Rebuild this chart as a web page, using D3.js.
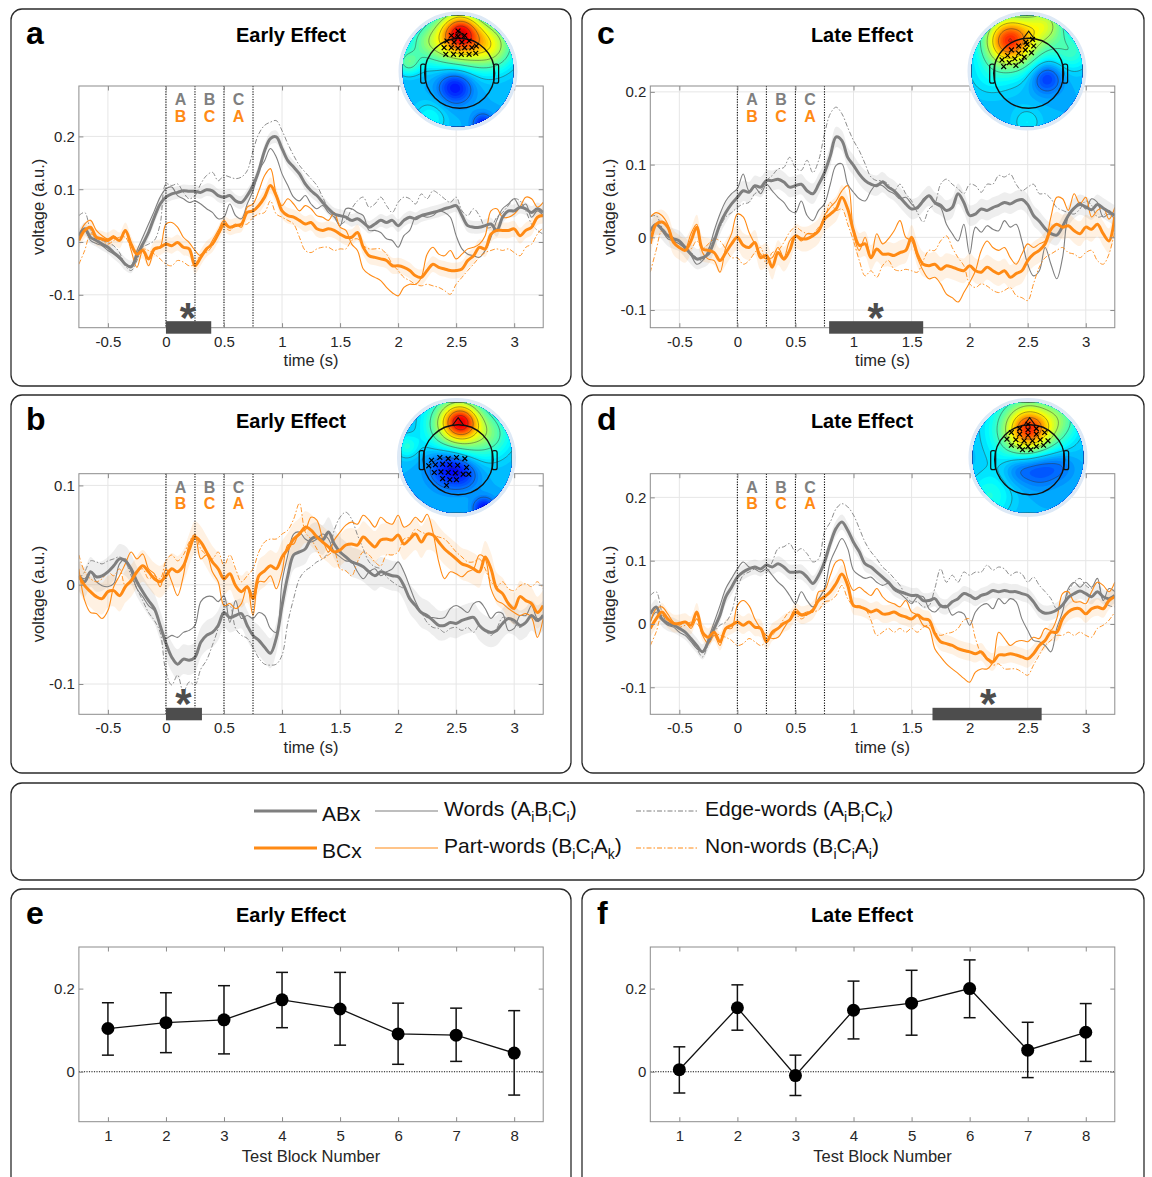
<!DOCTYPE html>
<html>
<head>
<meta charset="utf-8">
<script src="https://cdn.jsdelivr.net/npm/d3@7"></script>
<style>
  body { margin: 0; background: #fff; }
  svg text { font-family: "Liberation Sans", Arial, Helvetica, sans-serif; }
</style>
</head>
<body>
<svg id="fig" width="1152" height="1177"></svg>
<script>
// sample times of the averaged traces (s), one every 50 ms
const sampleTimes = d3.range(81).map(i => -0.75 + i * 0.05);

// ERP traces, in units of 1e-3 a.u.
// panel a – early effect, frontal cluster
const aABx = [12,25,9,3,-4,-10,-20,-29,-42,-47, -26,-4,18,47,72,85,91,94,97,96, 96,94,99,97,88,85,88,78,75,88,
  107,135,173,196,199,177,154,142,129,110, 97,88,75,63,53,50,47,41,44,37, 28,34,41,37,41,31,41,47,44,50,
  53,56,59,63,66,69,50,31,28,28, 31,34,22,47,59,59,66,63,56,63, 56];
const aWords = [3,22,3,-3,-7,-16,-23,-32,-42,-45, -16,9,34,59,85,101,104,88,82,75, 78,72,63,56,44,47,72,50,44,72,
  97,135,154,177,161,129,107,85,78,88, 72,63,69,56,47,31,63,63,56,50, 22,22,18,6,3,-10,12,22,47,50,
  47,50,59,56,47,12,-13,-23,-26,-29, -16,9,41,63,72,82,66,72,47,59, 50];
const aEdge = [50,56,22,6,3,-1,-7,-20,-45,-54, -35,-10,-4,3,34,110,107,110,94,82, 88,110,126,132,116,126,123,120,123,135,
  173,205,221,227,230,211,186,164,145,132, 120,107,85,63,50,34,41,63,78,85, 66,72,85,69,56,75,85,82,72,91,
  82,97,91,82,75,85,59,50,63,50, 28,28,47,56,69,82,78,59,34,22, 15];
const aBCx = [3,22,28,9,6,3,9,3,22,-4, -23,-16,-32,-13,-10,-4,-7,-1,-10,-13, -45,-29,-13,-4,15,34,28,31,34,56,
  59,69,85,107,88,59,50,47,41,34, 37,25,22,25,22,15,9,9,18,-10, -26,-29,-32,-35,-45,-45,-48,-54,-64,-67,
  -54,-42,-48,-51,-54,-54,-51,-35,-26,-10, -13,15,22,22,22,25,12,22,28,47, 50];
const aPart = [12,34,41,22,12,6,12,3,22,-16, -48,-16,-45,-16,-10,34,37,28,9,-1, -16,-26,-16,3,22,41,28,34,28,66,
  72,97,126,139,91,69,82,72,59,69, 63,50,47,41,56,28,22,-4,-16,-51, -61,-67,-73,-86,-96,-102,-86,-80,-80,-67,
  -23,-10,-23,-26,-16,-32,-23,-13,-10,-4, 12,59,63,47,47,53,66,85,82,66, 75];
const aNon = [-42,-16,15,9,3,-4,3,9,9,-10, -16,-13,-16,-23,-32,-42,-45,-35,-38,-45, -42,-23,-20,-7,12,28,22,31,34,34,
  47,53,56,78,53,47,41,34,9,-16, -20,-13,-10,-10,-16,-13,-13,3,6,-7, -13,-13,-13,-23,-42,-54,-67,-73,-80,-83,
  -80,-83,-86,-92,-99,-80,-67,-54,-42,-29, -20,-16,-13,-16,-13,-20,-26,-10,-4,15, 28];

// panel b – early effect, central cluster
const bABx = [9,3,13,8,9,13,19,26,24,16, 3,-7,-16,-24,-41,-59,-73,-80,-75,-76, -73,-58,-51,-48,-41,-28,-33,-31,-29,-41,
  -51,-56,-63,-69,-54,-21,9,30,33,36, 46,48,45,53,41,33,28,23,21,18, 13,9,13,11,9,8,-1,-14,-21,-28,
  -31,-36,-41,-41,-38,-39,-36,-34,-33,-41, -46,-48,-46,-39,-34,-36,-41,-38,-31,-36, -31];
const bWords = [9,6,13,3,-1,-2,1,21,26,13, -4,-12,-21,-26,-41,-54,-51,-53,-48,-46, -41,-17,-12,-12,-17,-11,-38,-16,-34,-31,
  -34,-28,-31,-44,-48,3,30,51,53,46, 43,46,51,46,33,28,24,23,13,6, 13,16,9,13,16,23,13,-2,-17,-28,
  -33,-33,-34,-33,-24,-21,-24,-28,-19,-17, -24,-34,-28,-29,-46,-44,-31,-31,-21,-34, -33];
const bEdge = [6,13,24,23,21,24,26,28,23,9, -4,-16,-28,-36,-48,-88,-101,-91,-108,-98, -101,-85,-76,-61,-44,-24,-21,-44,-51,-54,
  -63,-74,-80,-81,-80,-71,-38,-14,6,14, 18,23,26,33,55,68,73,66,50,36, 23,18,16,8,3,-1,-4,-14,-21,-28,
  -38,-43,-44,-48,-44,-43,-46,-43,-48,-41, -46,-51,-44,-33,-34,-39,-43,-38,-31,-38, -28];
const bBCx = [9,-1,-7,-12,-14,-7,-6,-11,-2,4, 13,19,13,6,3,9,16,13,19,35, 48,43,33,23,16,6,11,-1,-7,-2,
  -14,9,14,19,16,28,36,46,51,58, 55,48,43,38,33,35,40,41,40,48, 43,38,45,46,45,50,41,46,51,43,
  51,50,43,36,31,26,21,19,16,13, 28,16,-4,-9,-19,-24,-12,-16,-19,-28, -21];
const bPart = [16,-16,-28,-29,-34,-26,-2,9,21,33, 26,31,16,11,-2,16,3,-11,9,41, 50,26,30,13,3,-21,-19,-24,-19,-1,
  -31,3,3,9,-4,13,40,41,53,55, 68,65,46,33,45,53,60,63,61,70, 65,58,68,63,61,70,58,61,68,63,
  71,53,23,6,13,11,8,13,16,30, 26,-4,-16,-19,-24,-28,-31,-29,-33,-53, -34];
const bNon = [30,13,6,3,6,13,9,16,-1,3, 13,16,6,9,6,24,30,24,30,43, 51,36,30,26,33,19,30,16,3,9,
  16,33,43,46,46,51,55,66,82,53, 46,36,26,30,33,16,14,9,23,33, 30,23,19,30,30,33,46,48,56,53,
  51,50,48,46,40,33,28,23,23,26, 16,3,-2,3,-4,-6,-1,1,-2,3, -4];

// panel c – late effect, left frontal cluster
const cABx = [9,18,11,2,-2,-5,-14,-23,-30,-28, -23,-5,18,34,46,55,64,62,71,69, 78,78,80,76,69,71,73,64,60,73,
  89,112,138,133,110,99,87,78,73,71, 76,69,64,55,46,39,41,50,57,48, 44,37,41,60,48,30,32,39,37,41,
  44,48,46,50,52,45,30,22,12,5, 3,15,30,40,45,42,38,45,40,35, 30];
const cWords = [7,18,9,-2,-5,-9,-16,-25,-37,-32, -18,9,32,50,60,67,87,64,69,60, 73,64,55,48,37,34,50,30,23,37,
  46,73,99,101,73,62,53,50,64,73, 71,64,60,53,55,46,39,53,57,46, 41,18,5,-5,18,-23,14,7,16,11,
  9,23,14,18,-5,-37,-53,-46,-14,-37, -57,-28,30,41,48,39,53,48,28,32, 25];
const cEdge = [28,30,14,5,-5,-9,-16,-21,-28,-32, -16,0,14,28,34,41,46,48,60,64, 78,85,94,96,110,96,92,106,89,106,
  142,170,179,170,151,133,119,101,83,78, 78,73,64,73,60,50,34,21,39,46, 73,80,73,67,60,73,71,62,73,73,
  85,83,87,73,64,69,73,60,60,53, 41,37,34,32,39,50,44,28,30,37, 28];
const cBCx = [-9,18,21,14,-7,-14,-18,-5,14,-16, -18,-21,-32,-21,-9,0,-11,-14,-7,-28, -25,-41,-21,-30,-18,2,-2,-2,2,9,
  25,32,39,55,39,9,-11,-9,-28,-16, -23,-23,-25,-21,-18,0,-23,-37,-39,-37, -44,-39,-41,-44,-46,-39,-46,-48,-41,-46,
  -50,-46,-55,-50,-46,-32,-23,-18,-9,11, 18,14,16,9,5,14,11,18,5,-5, 28];
const cPart = [28,34,30,18,-5,-14,-16,5,18,-21, -30,-32,-48,-14,5,32,28,7,-9,-23, -30,-28,-14,-28,-5,2,-5,5,5,9,
  30,41,50,64,71,5,-18,0,-28,5, -9,-2,9,23,0,-5,-28,-46,-57,-55, -64,-78,-83,-89,-76,-62,-46,-18,-5,-14,
  -18,-14,-28,-37,-23,-9,-14,-9,-5,28, 55,53,37,60,46,55,28,37,41,25, 41];
const cNon = [-48,-18,9,2,-5,-14,-18,-16,-5,-16, -9,-2,-5,-16,-28,-28,-37,-32,-21,-14, -37,-21,-18,-7,7,14,9,5,5,14,
  23,48,37,39,18,-5,-32,-53,-46,-55, -39,-32,-44,-46,-44,-46,-48,-32,-18,-18, -5,2,-14,-28,-39,-64,-69,-64,-67,-73,
  -76,-73,-69,-80,-83,-87,-64,-41,-28,-23, -18,-14,-21,-23,-28,-21,-18,-32,-37,-23, 9];

// panel d – late effect, frontal cluster
const dABx = [16,27,8,1,-2,-7,-13,-23,-34,-44, -28,-7,14,43,58,74,82,87,90,87, 93,90,95,90,82,82,82,74,64,77,
  98,127,151,161,148,129,114,95,90,82, 74,66,56,51,48,45,45,37,37,40, 29,27,35,40,48,45,40,45,48,53,
  51,53,51,51,48,45,35,22,17,18, 22,30,42,48,52,48,43,51,43,40, 45];
const dWords = [3,19,6,-2,-5,-13,-18,-28,-39,-44, -23,3,29,56,72,87,98,90,87,82, 87,77,66,58,45,32,51,37,27,40,
  56,98,119,135,119,85,77,72,74,66, 61,64,53,48,40,32,43,43,24,19, 27,29,14,19,16,-2,19,29,32,24,
  40,32,40,35,8,-10,-26,-28,-34,-44, -7,19,56,66,58,66,58,72,37,56, 51];
const dEdge = [45,51,19,1,-2,-7,-13,-23,-39,-52, -31,-13,-2,3,19,56,77,82,87,87, 82,98,119,122,127,114,119,111,98,103,
  145,161,182,190,185,172,151,129,114,103, 90,82,72,61,45,35,35,27,29,56, 87,66,77,66,82,77,82,82,93,85,
  90,87,77,82,79,66,74,61,51,40, 24,29,51,66,72,61,56,66,37,29, 27];
const dBCx = [-7,8,19,8,1,1,3,-2,19,-13, -21,-13,-28,-7,-2,3,-2,3,-5,-7, -28,-13,-7,1,6,19,14,16,22,37,
  43,51,64,79,61,29,27,24,19,22, 16,16,19,14,11,8,14,8,6,-15, -28,-31,-34,-39,-42,-44,-47,-44,-55,-60,
  -49,-49,-47,-49,-52,-55,-47,-34,-26,-13, -13,8,19,24,24,16,24,27,24,37, 43];
const dPart = [3,24,27,16,3,-2,3,-7,8,-18, -31,-18,-34,-7,-7,29,37,29,8,-7, -18,-23,-21,-7,8,24,16,19,19,51,
  53,77,98,101,72,53,58,51,45,56, 43,35,32,27,37,19,14,-2,-7,-39, -52,-63,-71,-78,-86,-92,-76,-71,-71,-60,
  -13,-23,-34,-28,-26,-28,-21,-23,-7,-10, 8,48,51,35,35,32,51,66,61,51, 66];
const dNon = [-34,-13,14,3,-2,-5,-2,3,1,-13, -18,-13,-18,-21,-26,-34,-31,-23,-28,-34, -28,-18,-7,8,19,16,8,14,19,22,
  35,37,45,61,40,29,29,24,6,-18, -13,-7,-13,-7,-13,-7,-13,-5,-2,-13, -18,-15,-13,-7,6,8,-23,-47,-55,-65,
  -63,-71,-71,-71,-76,-81,-65,-49,-34,-26, -18,-18,-13,-18,-13,-18,-21,-7,-2,6, 19];

// standard error half-widths of the ABx / BCx bands (1e-3 a.u.)
const aSE = [12, 15], bSE = [15, 16], cSE = [14, 17], dSE = [12, 14];

// significant clusters [start, end] (s) and star position
const aSig = [0, 0.39], bSig = [0, 0.31], cSig = [0.79, 1.6], dSig = [1.68, 2.62];
const aStar = 0.19, bStar = 0.15, cStar = 1.19, dStar = 2.16;

// syllable position labels
const posGray = ['A', 'B', 'C'], posOrange = ['B', 'C', 'A'], posTimes = [0.125, 0.375, 0.625];
const wordOnsets = [0, 0.25, 0.5, 0.75];
const xTicks = [-0.5, 0, 0.5, 1, 1.5, 2, 2.5, 3];

// panels e, f – effect per test block
const blocks = [1, 2, 3, 4, 5, 6, 7, 8];
const eMean = [0.104, 0.118, 0.125, 0.173, 0.151, 0.091, 0.088, 0.045];
const eUpper = [0.166, 0.190, 0.207, 0.239, 0.239, 0.165, 0.153, 0.147];
const eLower = [0.040, 0.046, 0.043, 0.106, 0.064, 0.018, 0.025, -0.056];
const fMean = [0.005, 0.154, -0.009, 0.148, 0.165, 0.200, 0.052, 0.095];
const fUpper = [0.060, 0.209, 0.040, 0.218, 0.244, 0.269, 0.119, 0.164];
const fLower = [-0.051, 0.100, -0.057, 0.079, 0.088, 0.130, -0.014, 0.025];

// scalp map inputs: [x, y, amplitude, spread] in unit-disc coords, plus electrode crosses
const aTopoSrc = [[0, -0.6, 0.38, 0.35], [0.05, -0.72, 0.22, 0.22], [0.6, -0.45, 0.25, 0.3], [-0.6, -0.5, 0.12, 0.25],
  [-0.05, 0.28, -0.17, 0.22], [0.45, 0.95, -0.15, 0.13], [-0.9, -0.15, 0.15, 0.15], [-0.5, 0.85, 0.08, 0.22]];
const bTopoSrc = [[0, -0.6, 0.34, 0.35], [0.08, -0.65, 0.26, 0.2], [0.6, -0.4, 0.14, 0.3],
  [-0.15, 0.18, -0.16, 0.25], [0.15, 0.3, -0.08, 0.2], [0.5, 0.92, -0.17, 0.14], [-0.9, -0.2, 0.1, 0.15]];
const cTopoSrc = [[-0.35, -0.55, 0.3, 0.28], [-0.2, -0.55, 0.25, 0.4], [0.35, -0.85, 0.2, 0.25], [0.8, -0.35, 0.12, 0.25],
  [0.35, 0.12, -0.14, 0.2], [-0.7, 0.1, 0.05, 0.3], [0, 0.92, 0.06, 0.2]];
const dTopoSrc = [[0.02, -0.52, 0.28, 0.25], [0, -0.5, 0.26, 0.45], [0.2, 0.18, -0.14, 0.25], [-0.2, 0.2, -0.08, 0.2],
  [0.6, 0.15, -0.06, 0.2], [-0.7, 0.7, 0.1, 0.3], [0.6, -0.7, 0.1, 0.25]];
const aElec = [[0,-0.72],[-0.12,-0.64],[0,-0.62],[0.12,-0.64],[-0.2,-0.54],[-0.07,-0.52],[0.07,-0.52],[0.2,-0.54],
  [-0.25,-0.42],[-0.12,-0.42],[0,-0.41],[0.12,-0.42],[0.25,-0.42],[-0.22,-0.3],[-0.08,-0.3],[0.06,-0.3],[0.2,-0.3],[0.32,-0.32],[0.33,-0.45]];
const bElec = [[-0.45,0.05],[-0.3,0],[-0.15,0.02],[0,0],[0.15,0.02],[-0.5,0.15],[-0.38,0.13],[-0.25,0.12],[-0.12,0.13],
  [0.02,0.14],[0.18,0.18],[-0.4,0.27],[-0.28,0.26],[-0.15,0.27],[-0.02,0.28],[0.12,0.3],[0.22,0.3],[-0.25,0.38],[-0.12,0.4],[0,0.4],[-0.18,0.5]];
const cElec = [[0.1,-0.57],[-0.02,-0.52],[0.12,-0.45],[-0.15,-0.45],[-0.03,-0.38],[0.08,-0.33],[-0.28,-0.38],[-0.15,-0.32],
  [-0.05,-0.25],[-0.35,-0.28],[-0.22,-0.22],[-0.1,-0.18],[-0.45,-0.2],[-0.32,-0.15],[-0.2,-0.1],[-0.42,-0.08],[0,-0.48]];
const dElec = [[0,-0.6],[-0.15,-0.52],[0,-0.5],[0.15,-0.52],[-0.3,-0.45],[-0.15,-0.42],[0,-0.4],[0.15,-0.42],[0.3,-0.45],
  [-0.38,-0.33],[-0.22,-0.32],[-0.07,-0.3],[0.08,-0.3],[0.22,-0.32],[0.36,-0.3],[-0.3,-0.22],[-0.15,-0.2],[0,-0.2],[0.15,-0.2],[0.28,-0.22],[-0.1,-0.14],[0.05,-0.14]];

const GRAY = '#7f7f7f', ORANGE = '#ff8a14', FRAME = '#8c8c8c', GRID = '#e6e6e6', INK = '#262626';
const DASHDOT = '5,2,1.5,2';

const svg = d3.select('#fig');
const defs = svg.append('defs');

function box(x, y, w, h) {
  svg.append('rect').attr('x', x).attr('y', y).attr('width', w).attr('height', h)
    .attr('rx', 11).attr('fill', 'none').attr('stroke', '#2b2b2b').attr('stroke-width', 1.3);
}

function heading(x, y, letter, title) {
  svg.append('text').attr('x', x + 15).attr('y', y + 35).attr('font-size', 32).attr('font-weight', 'bold').text(letter);
  svg.append('text').attr('x', x + 280).attr('y', y + 33).attr('text-anchor', 'middle')
    .attr('font-size', 20).attr('font-weight', 'bold').text(title);
}

function styleAxis(g, labels) {
  g.select('.domain').remove();
  g.selectAll('.tick line').attr('stroke', FRAME);
  g.selectAll('.tick text').attr('font-size', labels ? 15 : 0).attr('fill', INK)
    .attr('font-family', '"Liberation Sans", Arial, sans-serif');
}

function jet(v) {
  v = Math.max(0, Math.min(1, v));
  const c = k => Math.max(0, Math.min(1, 1.5 - Math.abs(4 * v - k)));
  return d3.rgb(255 * c(3), 255 * c(2), 255 * c(1)).toString();
}

function drawTopo(id, cx, cy, R, src, elec) {
  const n = 64, base = 0.3;
  const vals = new Array(n * n);
  for (let j = 0; j < n; j++) {
    for (let i = 0; i < n; i++) {
      const ux = -1 + 2 * (i + 0.5) / n, uy = -1 + 2 * (j + 0.5) / n;
      let v = base;
      src.forEach(([sx, sy, a, s]) => { v += a * Math.exp(-((ux - sx) ** 2 + (uy - sy) ** 2) / (2 * s * s)); });
      vals[j * n + i] = v;
    }
  }
  defs.append('clipPath').attr('id', id).append('circle').attr('cx', cx).attr('cy', cy).attr('r', R);
  const g = svg.append('g');
  g.append('circle').attr('cx', cx).attr('cy', cy).attr('r', R + 2)
    .attr('fill', jet(base)).attr('stroke', '#dde9f6').attr('stroke-width', 4);
  const inner = g.append('g').attr('clip-path', `url(#${id})`);
  const path = d3.geoPath(d3.geoIdentity().scale(2 * R / n).translate([cx - R, cy - R]));
  const bands = d3.contours().size([n, n]).thresholds(d3.range(-0.1, 1.2, 0.02))(vals);
  inner.selectAll('path.band').data(bands).join('path').attr('class', 'band')
    .attr('d', path).attr('fill', d => jet(d.value + 0.01));
  const iso = d3.contours().size([n, n]).thresholds(d3.range(0.14, 1, 0.1))(vals);
  inner.selectAll('path.iso').data(iso).join('path').attr('class', 'iso')
    .attr('d', path).attr('fill', 'none').attr('stroke', '#333').attr('stroke-opacity', 0.65).attr('stroke-width', 0.7);
  // head outline
  const hx = cx + 0.03 * R, hy = cy + 0.04 * R, hr = 0.63 * R;
  g.append('circle').attr('cx', hx).attr('cy', hy).attr('r', hr)
    .attr('fill', 'none').attr('stroke', '#111').attr('stroke-width', 1.4);
  [-1, 1].forEach(s => {
    g.append('rect').attr('x', s < 0 ? hx - hr - 4 : hx + hr - 1).attr('y', hy - 9).attr('width', 5).attr('height', 19)
      .attr('rx', 2).attr('fill', 'none').attr('stroke', '#111').attr('stroke-width', 1.2);
  });
  g.append('path').attr('d', `M${hx - 6},${hy - hr + 1}L${hx},${hy - hr - 7}L${hx + 6},${hy - hr + 1}`)
    .attr('fill', 'none').attr('stroke', '#111').attr('stroke-width', 1.2);
  g.selectAll('path.x').data(elec).join('path').attr('class', 'x')
    .attr('transform', d => `translate(${cx + d[0] * R},${cy + d[1] * R})`)
    .attr('d', 'M-2.4,-2.4L2.4,2.4M-2.4,2.4L2.4,-2.4').attr('stroke', '#000').attr('stroke-width', 1.2);
}

function drawERP(p) {
  box(p.bx, p.by, p.bw, p.bh);
  heading(p.bx, p.by, p.letter, p.title);
  const [x0, y0, x1, y1] = p.plot;
  const x = d3.scaleLinear().domain([-0.75, 3.25]).range([x0, x1]);
  const y = d3.scaleLinear().domain(p.yDomain).range([y1, y0]);
  const g = svg.append('g');

  g.selectAll('line.gx').data(xTicks).join('line').attr('class', 'gx')
    .attr('x1', d => x(d)).attr('x2', d => x(d)).attr('y1', y0).attr('y2', y1).attr('stroke', GRID);
  g.selectAll('line.gy').data(p.yTicks).join('line').attr('class', 'gy')
    .attr('x1', x0).attr('x2', x1).attr('y1', d => y(d)).attr('y2', d => y(d)).attr('stroke', GRID);

  defs.append('clipPath').attr('id', 'clip' + p.letter).append('rect')
    .attr('x', x0).attr('y', y0).attr('width', x1 - x0).attr('height', y1 - y0);
  const plot = g.append('g').attr('clip-path', `url(#clip${p.letter})`);

  const curve = d3.curveCatmullRom.alpha(0.5);
  const line = d3.line().x((d, i) => x(sampleTimes[i])).y(d => y(d / 1000)).curve(curve);
  const band = se => d3.area().x((d, i) => x(sampleTimes[i]))
    .y0(d => y((d - se) / 1000)).y1(d => y((d + se) / 1000)).curve(curve);

  plot.append('path').attr('d', band(p.se[0])(p.abx)).attr('fill', '#b0b0b0').attr('fill-opacity', 0.22);
  plot.append('path').attr('d', band(p.se[1])(p.bcx)).attr('fill', ORANGE).attr('fill-opacity', 0.12);

  const traces = [
    [p.words, GRAY, 1.1, null], [p.edge, GRAY, 0.9, DASHDOT],
    [p.part, ORANGE, 1.1, null], [p.non, ORANGE, 0.9, DASHDOT],
    [p.abx, GRAY, 3, null], [p.bcx, ORANGE, 3, null]
  ];
  traces.forEach(([data, col, w, dash]) => {
    plot.append('path').attr('d', line(data)).attr('fill', 'none').attr('stroke', col)
      .attr('stroke-width', w).attr('stroke-dasharray', dash).attr('stroke-linejoin', 'round');
  });

  g.selectAll('line.onset').data(wordOnsets).join('line').attr('class', 'onset')
    .attr('x1', d => x(d)).attr('x2', d => x(d)).attr('y1', y0).attr('y2', y1)
    .attr('stroke', '#111').attr('stroke-width', 1.1).attr('stroke-dasharray', '1.2,1.4');

  g.selectAll('text.pg').data(posGray).join('text').attr('class', 'pg')
    .attr('x', (d, i) => x(posTimes[i])).attr('y', y0 + 19).attr('text-anchor', 'middle')
    .attr('font-size', 16).attr('font-weight', 'bold').attr('fill', GRAY).text(d => d);
  g.selectAll('text.po').data(posOrange).join('text').attr('class', 'po')
    .attr('x', (d, i) => x(posTimes[i])).attr('y', y0 + 35.5).attr('text-anchor', 'middle')
    .attr('font-size', 16).attr('font-weight', 'bold').attr('fill', ORANGE).text(d => d);

  g.append('rect').attr('x', x0).attr('y', y0).attr('width', x1 - x0).attr('height', y1 - y0)
    .attr('fill', 'none').attr('stroke', FRAME).attr('stroke-width', 1);

  const fmt = d => String(d);
  g.append('g').attr('transform', `translate(0,${y1})`)
    .call(d3.axisBottom(x).tickValues(xTicks).tickSize(-4.5).tickPadding(8.5).tickFormat(fmt)).call(a => styleAxis(a, true));
  g.append('g').attr('transform', `translate(0,${y0})`)
    .call(d3.axisTop(x).tickValues(xTicks).tickSize(-4.5).tickFormat('')).call(a => styleAxis(a, false));
  g.append('g').attr('transform', `translate(${x0},0)`)
    .call(d3.axisLeft(y).tickValues(p.yTicks).tickSize(-4.5).tickPadding(4).tickFormat(fmt)).call(a => styleAxis(a, true));
  g.append('g').attr('transform', `translate(${x1},0)`)
    .call(d3.axisRight(y).tickValues(p.yTicks).tickSize(-4.5).tickFormat('')).call(a => styleAxis(a, false));

  // significance bar and star
  g.append('rect').attr('x', x(p.sig[0])).attr('y', y1 - 6.5).attr('width', x(p.sig[1]) - x(p.sig[0]))
    .attr('height', 12.5).attr('fill', '#4d4d4d');
  g.append('text').attr('x', x(p.star)).attr('y', y1 + 4).attr('text-anchor', 'middle')
    .attr('font-size', 42).attr('font-weight', 'bold').attr('fill', '#4d4d4d').text('*');

  g.append('text').attr('x', (x0 + x1) / 2).attr('y', y1 + 38.5).attr('text-anchor', 'middle')
    .attr('font-size', 16.5).attr('fill', INK).text('time (s)');
  g.append('text').attr('transform', `translate(${x0 - 35},${(y0 + y1) / 2}) rotate(-90)`)
    .attr('text-anchor', 'middle').attr('font-size', 16.5).attr('fill', INK).text('voltage (a.u.)');

  drawTopo('topo' + p.letter, p.topo[0], p.topo[1], 55.5, p.topoSrc, p.elec);
}

function drawBlocks(p) {
  box(p.bx, p.by, p.bw, p.bh);
  heading(p.bx, p.by, p.letter, p.title);
  const [x0, y0, x1, y1] = p.plot;
  const x = d3.scaleLinear().domain([0.5, 8.5]).range([x0, x1]);
  const y = d3.scaleLinear().domain([-0.12, 0.3]).range([y1, y0]);
  const g = svg.append('g');

  g.append('line').attr('x1', x0).attr('x2', x1).attr('y1', y(0)).attr('y2', y(0))
    .attr('stroke', '#111').attr('stroke-width', 1.1).attr('stroke-dasharray', '1.2,1.3');
  g.append('rect').attr('x', x0).attr('y', y0).attr('width', x1 - x0).attr('height', y1 - y0)
    .attr('fill', 'none').attr('stroke', FRAME);

  const fmt = d => String(d);
  g.append('g').attr('transform', `translate(0,${y1})`)
    .call(d3.axisBottom(x).tickValues(blocks).tickSize(-4.5).tickPadding(8.5).tickFormat(fmt)).call(a => styleAxis(a, true));
  g.append('g').attr('transform', `translate(0,${y0})`)
    .call(d3.axisTop(x).tickValues(blocks).tickSize(-4.5).tickFormat('')).call(a => styleAxis(a, false));
  g.append('g').attr('transform', `translate(${x0},0)`)
    .call(d3.axisLeft(y).tickValues([0, 0.2]).tickSize(-4.5).tickPadding(4).tickFormat(fmt)).call(a => styleAxis(a, true));
  g.append('g').attr('transform', `translate(${x1},0)`)
    .call(d3.axisRight(y).tickValues([0, 0.2]).tickSize(-4.5).tickFormat('')).call(a => styleAxis(a, false));

  const pts = blocks.map((b, i) => ({ b, m: p.mean[i], lo: p.lower[i], hi: p.upper[i] }));
  g.append('path').attr('d', d3.line().x(d => x(d.b)).y(d => y(d.m))(pts))
    .attr('fill', 'none').attr('stroke', '#111').attr('stroke-width', 1.3);
  const eb = g.selectAll('g.eb').data(pts).join('g').attr('class', 'eb');
  eb.append('line').attr('x1', d => x(d.b)).attr('x2', d => x(d.b)).attr('y1', d => y(d.lo)).attr('y2', d => y(d.hi));
  eb.append('line').attr('x1', d => x(d.b) - 6).attr('x2', d => x(d.b) + 6).attr('y1', d => y(d.lo)).attr('y2', d => y(d.lo));
  eb.append('line').attr('x1', d => x(d.b) - 6).attr('x2', d => x(d.b) + 6).attr('y1', d => y(d.hi)).attr('y2', d => y(d.hi));
  eb.selectAll('line').attr('stroke', '#111').attr('stroke-width', 1.5);
  g.selectAll('circle.m').data(pts).join('circle').attr('class', 'm')
    .attr('cx', d => x(d.b)).attr('cy', d => y(d.m)).attr('r', 6.5).attr('fill', '#000');

  g.append('text').attr('x', (x0 + x1) / 2).attr('y', y1 + 40).attr('text-anchor', 'middle')
    .attr('font-size', 16.5).attr('fill', INK).text('Test Block Number');
}

drawERP({ letter: 'a', title: 'Early Effect', bx: 11, by: 9, bw: 560, bh: 377, plot: [78.9, 86, 543.2, 327.7],
  yDomain: [-0.1623, 0.2955], yTicks: [-0.1, 0, 0.1, 0.2], abx: aABx, words: aWords, edge: aEdge,
  bcx: aBCx, part: aPart, non: aNon, se: aSE, sig: aSig, star: aStar, topo: [458, 71], topoSrc: aTopoSrc, elec: aElec });
drawERP({ letter: 'c', title: 'Late Effect', bx: 582, by: 9, bw: 562, bh: 377, plot: [650.3, 86, 1114.8, 327.7],
  yDomain: [-0.1243, 0.2081], yTicks: [-0.1, 0, 0.1, 0.2], abx: cABx, words: cWords, edge: cEdge,
  bcx: cBCx, part: cPart, non: cNon, se: cSE, sig: cSig, star: cStar, topo: [1027, 71], topoSrc: cTopoSrc, elec: cElec });
drawERP({ letter: 'b', title: 'Early Effect', bx: 11, by: 395, bw: 560, bh: 378, plot: [78.9, 473.7, 543.2, 714.3],
  yDomain: [-0.1305, 0.1118], yTicks: [-0.1, 0, 0.1], abx: bABx, words: bWords, edge: bEdge,
  bcx: bBCx, part: bPart, non: bNon, se: bSE, sig: bSig, star: bStar, topo: [456.5, 457.5], topoSrc: bTopoSrc, elec: bElec });
drawERP({ letter: 'd', title: 'Late Effect', bx: 582, by: 395, bw: 562, bh: 378, plot: [650.3, 473.7, 1114.8, 714.3],
  yDomain: [-0.1427, 0.2374], yTicks: [-0.1, 0, 0.1, 0.2], abx: dABx, words: dWords, edge: dEdge,
  bcx: dBCx, part: dPart, non: dNon, se: dSE, sig: dSig, star: dStar, topo: [1028, 457.5], topoSrc: dTopoSrc, elec: dElec });

// legend
box(11, 783, 1133, 97);
const legendRows = [
  { y: 811, col: GRAY, main: 'ABx', solid: ['Words (A', '_i', 'B', '_i', 'C', '_i', ')'], dash: ['Edge-words (A', '_i', 'B', '_i', 'C', '_k', ')'] },
  { y: 848, col: ORANGE, main: 'BCx', solid: ['Part-words (B', '_i', 'C', '_i', 'A', '_k', ')'], dash: ['Non-words (B', '_i', 'C', '_i', 'A', '_i', ')'] }
];
function richText(x, y, parts) {
  const t = svg.append('text').attr('x', x).attr('y', y).attr('font-size', 21).attr('fill', '#111');
  let low = false;
  parts.forEach(p => {
    const sub = p.startsWith('_');
    const ts = t.append('tspan').text(sub ? p.slice(1) : p);
    if (sub) { ts.attr('font-size', 14); if (!low) { ts.attr('dy', 6); low = true; } }
    else if (low) { ts.attr('dy', -6); low = false; }
  });
}
legendRows.forEach(r => {
  svg.append('line').attr('x1', 254).attr('x2', 317).attr('y1', r.y).attr('y2', r.y).attr('stroke', r.col).attr('stroke-width', 3);
  svg.append('text').attr('x', 322).attr('y', r.y + 10).attr('font-size', 21).attr('fill', '#111').text(r.main);
  svg.append('line').attr('x1', 375).attr('x2', 438).attr('y1', r.y).attr('y2', r.y).attr('stroke', r.col).attr('stroke-width', 1.2);
  richText(444, r.y + 5, r.solid);
  svg.append('line').attr('x1', 636).attr('x2', 699).attr('y1', r.y).attr('y2', r.y).attr('stroke', r.col)
    .attr('stroke-width', 1).attr('stroke-dasharray', DASHDOT);
  richText(705, r.y + 5, r.dash);
});

drawBlocks({ letter: 'e', title: 'Early Effect', bx: 11, by: 889, bw: 560, bh: 300, plot: [78.9, 947, 543.2, 1121.7],
  mean: eMean, upper: eUpper, lower: eLower });
drawBlocks({ letter: 'f', title: 'Late Effect', bx: 582, by: 889, bw: 562, bh: 300, plot: [650.3, 947, 1114.8, 1121.7],
  mean: fMean, upper: fUpper, lower: fLower });
</script>
</body>
</html>
